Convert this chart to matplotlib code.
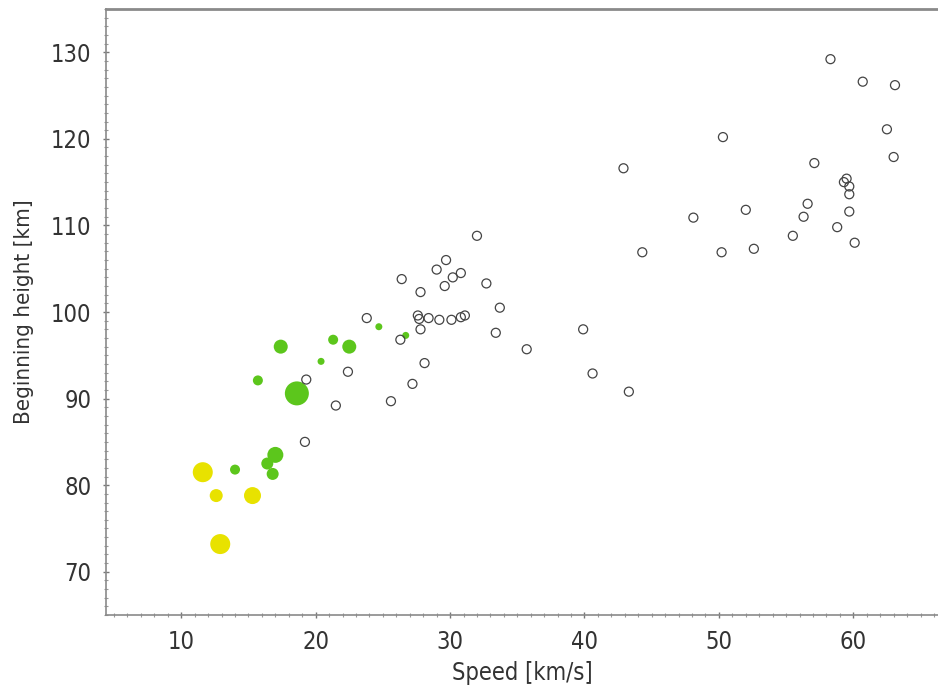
import numpy as np
import matplotlib
matplotlib.use("Agg")
import matplotlib.pyplot as plt
from matplotlib.ticker import MultipleLocator

plt.rcParams['font.family'] = ['DejaVu Sans']
plt.rcParams['font.stretch'] = 'condensed'

# open circles (speed km/s, beginning height km)
speed_open = [58.3, 60.7, 63.1, 62.5, 63.0, 57.1, 59.5, 59.3, 59.7, 59.7,
              56.6, 56.3, 59.7, 55.5, 58.8, 60.1, 50.3, 42.9, 52.0, 48.1,
              44.3, 50.2, 52.6, 32.0, 29.7, 29.0, 26.4, 30.8, 30.2, 29.6,
              32.7, 27.8, 33.7, 27.6, 27.7, 28.4, 29.2, 30.1, 30.8, 31.1,
              27.8, 33.4, 35.7, 39.9, 40.6, 43.3, 28.1, 27.2, 25.6, 23.8,
              26.3, 19.3, 22.4, 21.5, 19.2]
height_open = [129.2, 126.6, 126.2, 121.1, 117.9, 117.2, 115.4, 115.0, 114.5, 113.6,
               112.5, 111.0, 111.6, 108.8, 109.8, 108.0, 120.2, 116.6, 111.8, 110.9,
               106.9, 106.9, 107.3, 108.8, 106.0, 104.9, 103.8, 104.5, 104.0, 103.0,
               103.3, 102.3, 100.5, 99.6, 99.2, 99.3, 99.1, 99.1, 99.4, 99.6,
               98.0, 97.6, 95.7, 98.0, 92.9, 90.8, 94.1, 91.7, 89.7, 99.3,
               96.8, 92.2, 93.1, 89.2, 85.0]

# green filled points, marker diameter in px
speed_green = [17.4, 21.3, 22.5, 20.4, 15.7, 18.6, 17.0, 16.4, 16.8, 14.0, 24.7, 26.7]
height_green = [96.0, 96.8, 96.0, 94.3, 92.1, 90.6, 83.5, 82.5, 81.3, 81.8, 98.3, 97.3]
size_green = [14, 10, 14, 7, 10, 24, 16, 12, 12, 10, 7, 7]

# yellow filled points
speed_yellow = [11.6, 12.6, 15.3, 12.9]
height_yellow = [81.5, 78.8, 78.8, 73.2]
size_yellow = [20, 13, 17, 20]


def area(d):
    # px diameter -> points^2
    return (np.array(d) * 0.72) ** 2


fig = plt.figure(figsize=(9.38, 6.88), dpi=100)
ax = fig.add_axes([0.113, 0.106, 0.887, 0.881])

ax.scatter(speed_open, height_open, s=area([9] * len(speed_open)),
           facecolors='none', edgecolors='#444444', linewidths=0.9, zorder=3)
ax.scatter(speed_green, height_green, s=area(size_green),
           color='#5cc61c', edgecolors='none', zorder=2)
ax.scatter(speed_yellow, height_yellow, s=area(size_yellow),
           color='#e8e200', edgecolors='none', zorder=2)

ax.set_xlim(4.4, 66.3)
ax.set_ylim(65, 135)
ax.xaxis.set_major_locator(MultipleLocator(10))
ax.yaxis.set_major_locator(MultipleLocator(10))
ax.xaxis.set_minor_locator(MultipleLocator(1))
ax.yaxis.set_minor_locator(MultipleLocator(1))

for side in ['left', 'bottom']:
    ax.spines[side].set_color('#8a8a8a')
    ax.spines[side].set_linewidth(1.2)
ax.spines['top'].set_color('#8a8a8a')
ax.spines['top'].set_linewidth(2.0)
ax.spines['right'].set_visible(False)

ax.tick_params(which='major', direction='inout', length=5, width=1,
               color='#777777', labelsize=17, labelcolor='#333333', pad=8,
               top=False, right=False)
ax.tick_params(which='minor', direction='inout', length=3, width=0.8,
               color='#999999', top=False, right=False)

ax.set_xlabel('Speed [km/s]', fontsize=17, color='#333333', labelpad=5)
ax.set_ylabel('Beginning height [km]', fontsize=16, color='#333333', labelpad=12)

fig.savefig('out.png', dpi=100)
